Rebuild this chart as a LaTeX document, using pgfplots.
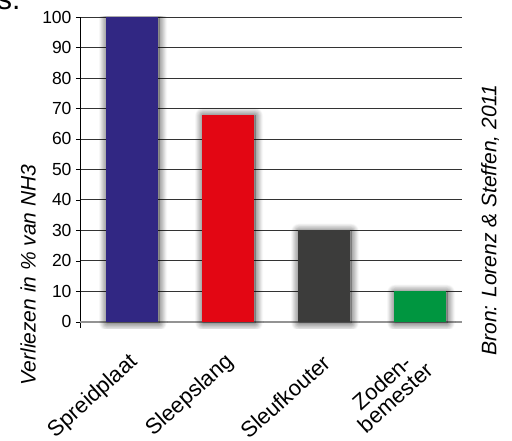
\documentclass[border=0pt]{standalone}
\usepackage{pgfplots}
\pgfplotsset{compat=1.18}
\usepackage{fontspec}
\setmainfont{Liberation Sans}
\usetikzlibrary{shadows.blur}
\definecolor{cblue}{HTML}{312783}
\definecolor{cred}{HTML}{E30613}
\definecolor{cgray}{HTML}{3C3C3B}
\definecolor{cgreen}{HTML}{009640}
\begin{document}
\begin{tikzpicture}[x=1pt,y=1pt]
\begin{axis}[
  at={(80pt,-328pt)}, anchor=south west,
  scale only axis, width=382pt, height=311pt,
  xmin=-0.5417, xmax=3.4375, ymin=-2, ymax=100,
  ybar, bar width=52pt,
  axis x line*=bottom, axis y line*=left,
  axis line style={-},
  x axis line style={draw=none},
  y axis line style={black, line width=0.6pt},
  xtick={0,1,2,3},
  xticklabels={Spreidplaat,Sleepslang,Sleufkouter,{Zoden-\\bemester}},
  xtick style={draw=none},
  xticklabel style={xshift=5pt, yshift=-25pt, rotate=42, anchor=east, align=center, font=\fontsize{22}{20}\selectfont},
  ytick={10,20,...,100},
  extra y ticks={0},
  extra y tick style={grid style={gray!85, line width=1.6pt}},
  ymajorgrids,
  grid style={black!80, line width=0.9pt},
  ytick style={black, line width=0.6pt},
  tick align=outside, major tick length=4pt,
  yticklabel style={font=\fontsize{17.5}{17}\selectfont, xshift=-1pt},
  /pgf/number format/assume math mode=true,
  every axis plot/.append style={draw=none, bar shift=0pt,
     blur shadow={shadow xshift=1pt, shadow yshift=-1pt, shadow blur radius=8pt, shadow blur steps=12, shadow opacity=85}},
]
\addplot[fill=cblue] coordinates {(0,100)};
\addplot[fill=cred] coordinates {(1,68)};
\addplot[fill=cgray] coordinates {(2,30)};
\addplot[fill=cgreen] coordinates {(3,10)};
\end{axis}
\node[rotate=90, font=\fontsize{21}{21}\selectfont\itshape] at (28,-275) {Verliezen in \% van NH3};
\node[rotate=90, font=\fontsize{21}{21}\selectfont\itshape] at (490,-220) {Bron: Lorenz \& Steffen, 2011};
\node[anchor=base west, font=\fontsize{30}{30}\selectfont, inner sep=0pt] at (-3,-10) {s.};
\pgfresetboundingbox
\path[use as bounding box] (0,0) rectangle (512,-441);
\end{tikzpicture}
\end{document}
